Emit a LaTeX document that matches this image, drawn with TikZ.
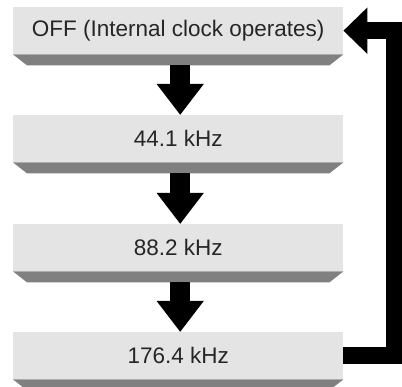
\documentclass[tikz,border=0pt]{standalone}
\usepackage{fontspec}
\setmainfont{Liberation Sans}
\usetikzlibrary{calc,arrows.meta}
\definecolor{boxfill}{HTML}{E4E4E4}
\definecolor{bevel}{HTML}{808080}
\definecolor{txt}{HTML}{262626}
\begin{document}
\begin{tikzpicture}[x=1pt,y=-1pt,
  stepbox/.style={fill=boxfill, draw=none, minimum width=330pt, minimum height=47pt,
    inner sep=0pt, anchor=north west, text=txt, font=\fontsize{22.5}{27}\selectfont},
  bigarrow/.style={line width=20pt, -{Triangle[width=45pt,length=31pt]}},
  backarrow/.style={line width=17pt, line join=miter, -{Triangle[width=45pt,length=24pt]}}]
\useasboundingbox (0,0) rectangle (402,387);
\node[stepbox] (b1) at (13,7) {OFF (Internal clock operates)};
\node[stepbox] (b2) at (13,115) {44.1 kHz};
\node[stepbox] (b3) at (13,224) {88.2 kHz};
\node[stepbox] (b4) at (13,332) {176.4 kHz};
\foreach \b in {b1,b2,b3,b4}{
  \fill[bevel] (\b.south west) -- (\b.south east) -- ($(\b.south east)+(-14,11)$) -- ($(\b.south west)+(14,11)$) -- cycle;
}
\draw[bigarrow] ($(b1.south)+(2,11)$) -- ($(b2.north)+(2,0)$);
\draw[bigarrow] ($(b2.south)+(2,11)$) -- ($(b3.north)+(2,0)$);
\draw[bigarrow] ($(b3.south)+(2,11)$) -- ($(b4.north)+(2,0)$);
\coordinate (c1) at ($(b4.east)+(51.5,0)$);
\coordinate (c2) at ($(b1.east)+(51.5,0)$);
\draw[backarrow] (b4.east) -- (c1) -- (c2) -- (b1.east);
\end{tikzpicture}
\end{document}
